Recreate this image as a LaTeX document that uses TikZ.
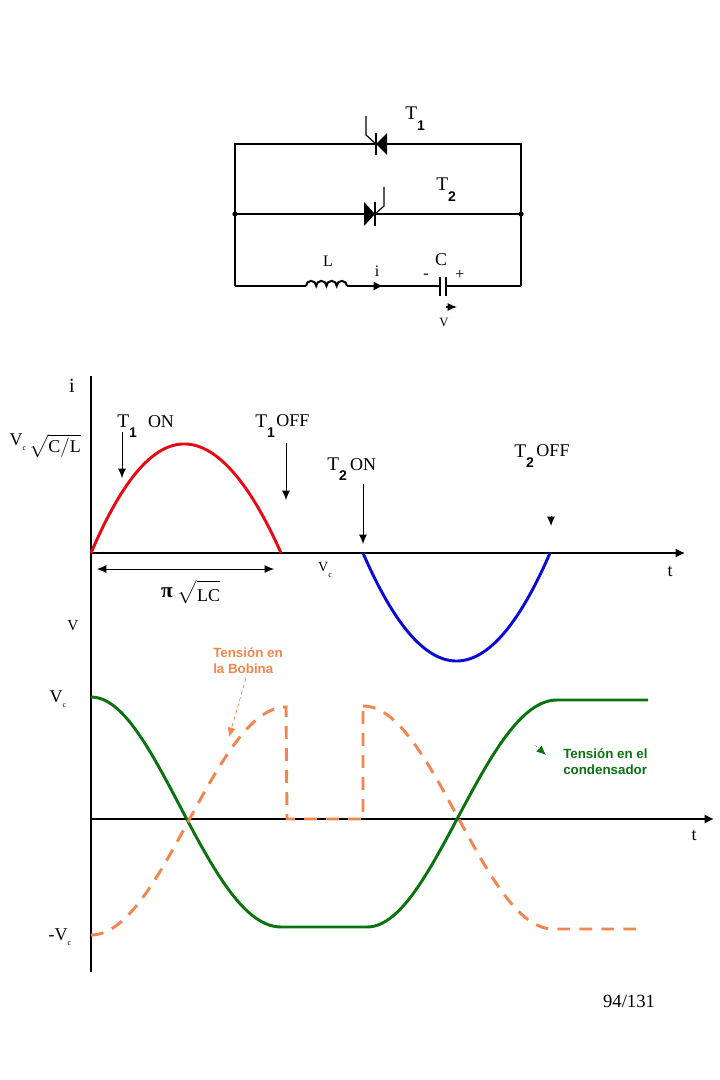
\documentclass[tikz,border=0pt]{standalone}
\usepackage{amsmath}
\usepackage{xcolor}
\usepackage{fontspec}
\setmainfont{Liberation Serif}
\setsansfont{Liberation Sans}
\usepackage{tikz}
\usetikzlibrary{positioning}
\usetikzlibrary{calc}
\usetikzlibrary{arrows.meta}

\definecolor{bobinaorange}{RGB}{243,133,78}
\definecolor{condgreen}{RGB}{10,115,15}
\definecolor{ondablue}{RGB}{10,10,215}
\definecolor{ondared}{RGB}{230,10,20}

\newcommand{\Tlab}[2][0pt]{{\fontsize{14.5}{15}\selectfont T}\kern#1\raisebox{-8pt}{\sffamily\bfseries\fontsize{10.5}{11}\selectfont #2}}
\newcommand{\Vlab}{V\raisebox{-4pt}{\fontsize{6}{6}\selectfont c}}

\tikzset{
 wire/.style={line width=1.5pt},
 thin wire/.style={line width=0.9pt},
 axisline/.style={line width=1.5pt,-{Latex[length=7pt,width=7pt]}},
 marker/.style={line width=0.75pt,-{Latex[length=7pt,width=6pt]}},
 wave/.style={line width=2.2pt},
 lab/.style={inner sep=0pt,font=\fontsize{13.5}{15}\selectfont},
 tlab/.style={inner sep=0pt,anchor=base west},
 small lab/.style={inner sep=0pt,font=\fontsize{12}{13}\selectfont},
 note/.style={inner sep=0pt,align=left,anchor=west,font=\sffamily\bfseries\fontsize{10}{12}\selectfont}
}

\begin{document}
\begin{tikzpicture}[x=0.75pt,y=-0.75pt]
\useasboundingbox (0,0) rectangle (720,1080);

% circuit
\coordinate (tl) at (235,144);
\coordinate[right=214.5pt of tl] (tr);
\coordinate[below=52.5pt of tl] (ml);
\coordinate[right=214.5pt of ml] (mr);
\coordinate[below=106.5pt of tl] (bl);
\coordinate[right=214.5pt of bl] (br);
\coordinate (t1bar) at (376,144);
\coordinate (t2bar) at (375,214);
\coordinate (lstart) at (306,286);
\coordinate (lend) at (347,286);
\coordinate (iarrow) at (373,286);
\coordinate (iend) at (383,286);
\coordinate (capl) at (440,286);
\coordinate (capr) at (446,286);
\coordinate (varrow) at (446,307);
\coordinate (vend) at (457,307);

\draw[wire] (bl) -- (tl) -- (tr) -- (br);
\draw[wire] (ml) -- (mr);
\draw[wire] (bl) -- (lstart);
\draw[wire] (lstart) foreach \n in {1,...,4} {arc (180:0:3.84pt)};
\draw[wire] (lend) -- (capl);
\draw[wire] (capr) -- (br);
\draw[thin wire] ($(capl)+(0,-9)$) -- ($(capl)+(0,10)$);
\draw[thin wire] ($(capr)+(0,-9)$) -- ($(capr)+(0,10)$);
\draw[wire,-{Latex[length=7pt,width=7pt]}] (iarrow) -- (iend);
\draw[thin wire,-{Latex[length=7pt,width=6pt]}] (varrow) -- (vend);
\fill[black] (ml) circle (2pt);
\fill[black] (mr) circle (2pt);

% T1
\fill (t1bar) -- ++(11,-11) -- ++(0,22) -- cycle;
\draw[thin wire] ($(t1bar)+(0,-11)$) -- ($(t1bar)+(0,11)$);
\draw[thin wire] (t1bar) -- ++(-10,-9) -- ++(0,-19);
% T2
\fill (t2bar) -- ++(-11,-12) -- ++(0,24) -- cycle;
\draw[thin wire] ($(t2bar)+(0,-12)$) -- ($(t2bar)+(0,12)$);
\draw[thin wire] (t2bar) -- ++(9,-8) -- ++(0,-19);

\node[tlab] (t1name) at (405,120) {\Tlab{1}};
\node[tlab] (t2name) at (436,191) {\Tlab{2}};
\node[small lab] (lname) at (328,261) {L};
\node[small lab] (iname) at (377,271) {i};
\node[lab] (cname) at (441,260) {C};
\node[small lab] (minus) at (426,276) {-};
\node[small lab] (plus) at (460,275) {+};
\node[inner sep=0pt,font=\fontsize{9.5}{10}\selectfont] (vname) at (444,322) {V};

% axes
\coordinate (itop) at (91,376);
\coordinate (ibot) at (91,972);
\coordinate (o1) at (91,553);
\coordinate (t1end) at (685,553);
\coordinate (o2) at (91,819);
\coordinate (t2end) at (714,819);
\draw[wire] (itop) -- (ibot);
\draw[axisline] (o1) -- (t1end);
\draw[axisline] (o2) -- (t2end);

% waves
\draw[wave,ondared] plot[domain=0:180,samples=70] ({91+1.0556*\x},{553-109*(4*\x/180*(1-\x/180)+0.012*sin(2*\x))});
\draw[wave,ondablue] plot[domain=0:180,samples=70] ({363+1.0389*\x},{553+108*(4*\x/180*(1-\x/180))});
\draw[wave,condgreen] plot[domain=0:180,samples=50] ({91+1.0556*\x-3*sin(\x)},{812-115*cos(\x)}) -- (367,927)
  plot[domain=0:180,samples=50] ({367+1.0556*\x-2*sin(\x)},{813.5+113.5*cos(\x)}) -- (648,700);
\draw[wave,bobinaorange,dash pattern=on 9.5pt off 7pt] plot[domain=0:180,samples=50] ({91+1.0833*\x},{821+114*cos(\x)}) -- (287,819) -- (363,819) -- (363,706)
  plot[domain=0:180,samples=50] ({363+1.0556*\x},{817.5-111.5*cos(\x)}) -- (637,929);

% markers
\coordinate (m1a) at (122,432);
\coordinate (m1b) at (122,478);
\coordinate (m2a) at (286,443);
\coordinate (m2b) at (286,500);
\coordinate (m3a) at (363,484);
\coordinate (m3b) at (363,544);
\coordinate (m4a) at (551,516);
\coordinate (m4b) at (551,526);
\coordinate (pia) at (97,569);
\coordinate (pib) at (274,569);
\draw[marker] (m1a) -- (m1b);
\draw[marker] (m2a) -- (m2b);
\draw[marker] (m3a) -- (m3b);
\draw[marker] (m4a) -- (m4b);
\draw[marker,{Latex[length=7pt,width=6pt]}-{Latex[length=7pt,width=6pt]}] (pia) -- (pib);

% labels
\node[lab] (iaxis) at (72,386) {\fontsize{15}{15}\selectfont i};
\node[lab] (vc0) at (18,442) {\Vlab};
\node[lab] (cproot) at (55,446) {$\sqrt{\rule{0pt}{11pt}\mathrm{C/L}}$};
\node[tlab] (t1on) at (117,427) {\Tlab{1}};
\node[lab] (on1) at (161,422) {ON};
\node[tlab] (t1off) at (255,427) {\Tlab{1}};
\node[lab] (off1) at (293,421) {OFF};
\node[tlab] (t2on) at (327,470) {\Tlab{2}};
\node[lab] (on2) at (363,465) {ON};
\node[tlab] (t2off) at (514,457) {\Tlab{2}};
\node[lab] (off2) at (553,451) {OFF};
\node[inner sep=0pt,font=\fontsize{10.5}{12}\selectfont] (vc1) at (325,570) {\Vlab};
\node[inner sep=0pt,font=\bfseries\fontsize{16}{16}\selectfont] (pisym) at (167,593) {π};
\node[lab] (lcroot) at (199,592) {$\sqrt{\rule{0pt}{13pt}\mathrm{LC}}$};
\node[lab] (t1axis) at (670,572) {t};
\node[lab] (t2axis) at (694,836) {t};
\node[inner sep=0pt,font=\fontsize{11.5}{12}\selectfont] (vaxis) at (73,626) {V};
\node[lab] (vc2) at (58,699) {\Vlab};
\node[lab] (vc3) at (60,937) {-\Vlab};
\node[inner sep=0pt,font=\fontsize{14}{16}\selectfont] (page) at (629,1001) {94/131};

% notes
\node[note,text=bobinaorange] (bobina) at (213,661) {Tensión en\\la Bobina};
\node[note,text=condgreen] (cond) at (563,762) {Tensión en el\\condensador};
\coordinate (ba) at (246,678);
\coordinate (bb) at (229,737);
\coordinate (ca) at (535,745);
\coordinate (cb) at (546,755);
\draw[bobinaorange,line width=0.5pt,densely dashed,-{Latex[length=7pt,width=6pt]}] (ba) -- (bb);
\draw[condgreen,line width=0.5pt,densely dotted,-{Latex[length=7pt,width=6pt]}] (ca) -- (cb);
\end{tikzpicture}
\end{document}
